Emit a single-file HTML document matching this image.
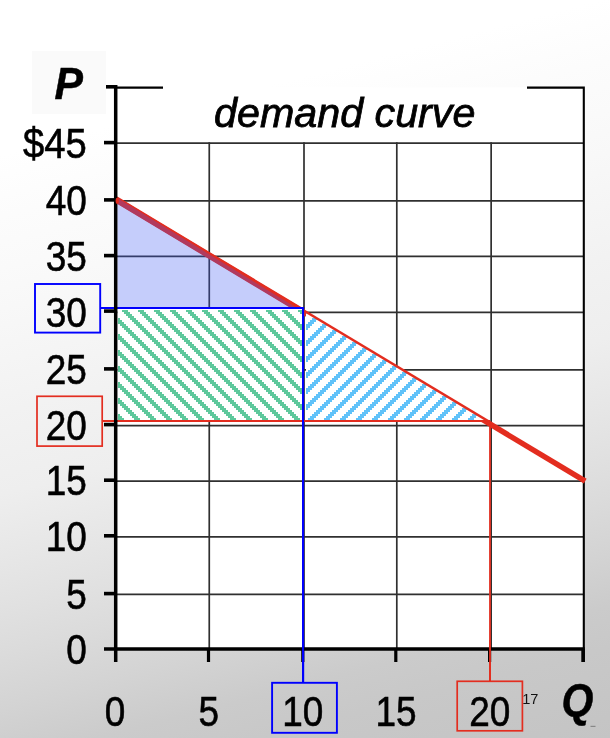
<!DOCTYPE html>
<html><head><meta charset="utf-8"><title>demand curve</title>
<style>
html,body{margin:0;padding:0;background:#fff;}
body{width:610px;height:738px;overflow:hidden;}
svg{display:block;}
text{font-family:"Liberation Sans",Arial,Helvetica,sans-serif;fill:#000;}
.n{font-size:42px;stroke:#000;stroke-width:0.6px;}
.b{font-size:42.5px;font-weight:bold;font-style:italic;stroke:#000;stroke-width:0.5px;}
.t{font-size:41.25px;font-style:italic;stroke:#000;stroke-width:0.8px;}
.s{font-size:14.6px;fill:#111;}
</style></head><body>
<svg width="610" height="738" viewBox="0 0 610 738">
<defs>
<linearGradient id="bg" gradientUnits="userSpaceOnUse" x1="0" y1="0" x2="249.2" y2="966.7">
<stop offset="0.150" stop-color="#ffffff"/>
<stop offset="0.210" stop-color="#fcfcfc"/>
<stop offset="0.260" stop-color="#fafafa"/>
<stop offset="0.300" stop-color="#f8f8f8"/>
<stop offset="0.400" stop-color="#f2f2f2"/>
<stop offset="0.480" stop-color="#eeeeee"/>
<stop offset="0.540" stop-color="#e7e7e7"/>
<stop offset="0.590" stop-color="#e1e1e1"/>
<stop offset="0.635" stop-color="#dbdbdb"/>
<stop offset="0.690" stop-color="#d3d3d3"/>
<stop offset="0.740" stop-color="#cbcbcb"/>
<stop offset="0.780" stop-color="#c8c8c8"/>
<stop offset="0.870" stop-color="#c4c4c4"/>
</linearGradient>
<pattern id="hg" patternUnits="userSpaceOnUse" width="16" height="16"><rect width="16" height="16" fill="#fff"/><g fill="#5ec89c" shape-rendering="crispEdges"><rect x="4" y="0" width="2" height="2"/><rect x="6" y="0" width="2" height="2"/><rect x="8" y="0" width="2" height="2"/><rect x="6" y="2" width="2" height="2"/><rect x="8" y="2" width="2" height="2"/><rect x="10" y="2" width="2" height="2"/><rect x="8" y="4" width="2" height="2"/><rect x="10" y="4" width="2" height="2"/><rect x="12" y="4" width="2" height="2"/><rect x="10" y="6" width="2" height="2"/><rect x="12" y="6" width="2" height="2"/><rect x="14" y="6" width="2" height="2"/><rect x="12" y="8" width="2" height="2"/><rect x="14" y="8" width="2" height="2"/><rect x="0" y="8" width="2" height="2"/><rect x="14" y="10" width="2" height="2"/><rect x="0" y="10" width="2" height="2"/><rect x="2" y="10" width="2" height="2"/><rect x="0" y="12" width="2" height="2"/><rect x="2" y="12" width="2" height="2"/><rect x="4" y="12" width="2" height="2"/><rect x="2" y="14" width="2" height="2"/><rect x="4" y="14" width="2" height="2"/><rect x="6" y="14" width="2" height="2"/></g></pattern>
<pattern id="hb" patternUnits="userSpaceOnUse" width="16" height="16"><rect width="16" height="16" fill="#fff"/><g fill="#60c2f9" shape-rendering="crispEdges"><rect x="6" y="0" width="2" height="2"/><rect x="8" y="0" width="2" height="2"/><rect x="10" y="0" width="2" height="2"/><rect x="4" y="2" width="2" height="2"/><rect x="6" y="2" width="2" height="2"/><rect x="8" y="2" width="2" height="2"/><rect x="2" y="4" width="2" height="2"/><rect x="4" y="4" width="2" height="2"/><rect x="6" y="4" width="2" height="2"/><rect x="0" y="6" width="2" height="2"/><rect x="2" y="6" width="2" height="2"/><rect x="4" y="6" width="2" height="2"/><rect x="14" y="8" width="2" height="2"/><rect x="0" y="8" width="2" height="2"/><rect x="2" y="8" width="2" height="2"/><rect x="12" y="10" width="2" height="2"/><rect x="14" y="10" width="2" height="2"/><rect x="0" y="10" width="2" height="2"/><rect x="10" y="12" width="2" height="2"/><rect x="12" y="12" width="2" height="2"/><rect x="14" y="12" width="2" height="2"/><rect x="8" y="14" width="2" height="2"/><rect x="10" y="14" width="2" height="2"/><rect x="12" y="14" width="2" height="2"/></g></pattern>
</defs>
<rect width="610" height="738" fill="url(#bg)"/>
<rect x="32" y="51" width="74" height="63" fill="#fafafa"/>
<rect x="115.7" y="87.5" width="468.1" height="561.5" fill="#fff"/>
<g stroke="#303030" stroke-width="1.7" fill="none">
<line x1="115.7" y1="143.1" x2="583.8" y2="143.1"/>
<line x1="115.7" y1="200.9" x2="583.8" y2="200.9"/>
<line x1="115.7" y1="256.4" x2="583.8" y2="256.4"/>
<line x1="115.7" y1="312.3" x2="583.8" y2="312.3"/>
<line x1="115.7" y1="369.9" x2="583.8" y2="369.9"/>
<line x1="115.7" y1="425.6" x2="583.8" y2="425.6"/>
<line x1="115.7" y1="481.1" x2="583.8" y2="481.1"/>
<line x1="115.7" y1="536.9" x2="583.8" y2="536.9"/>
<line x1="115.7" y1="594.4" x2="583.8" y2="594.4"/>
<line x1="209.26" y1="142.3" x2="209.26" y2="649"/>
<line x1="304.0" y1="142.3" x2="304.0" y2="649"/>
<line x1="396.8" y1="142.3" x2="396.8" y2="649"/>
<line x1="491.15" y1="142.3" x2="491.15" y2="649"/>
</g>
<g stroke="#000" stroke-width="2.1" fill="none">
<line x1="115" y1="87.6" x2="163" y2="87.6"/>
<polyline points="527,87.6 583.8,87.6 583.8,662"/>
</g>
<line x1="115.7" y1="199.3" x2="585.2" y2="481.2" stroke="#e32d1f" stroke-width="5.5"/>
<line x1="115.7" y1="199.3" x2="303.0" y2="311.76" stroke="#e32d1f" stroke-width="6.3"/>
<polygon points="117.4,198.0 296.8,308 117.4,308" fill="#3e58f2" fill-opacity="0.3"/>
<rect x="117.4" y="309" width="184.8" height="111" fill="#fff"/>
<rect x="118" y="310" width="184" height="110" fill="url(#hg)"/>
<polygon points="306,313.2 306,420 483.9,420" fill="url(#hb)"/>
<g stroke="#e32d1f" fill="none">
<line x1="103" y1="421" x2="490" y2="421" stroke-width="1.9"/>
<line x1="490" y1="421" x2="490" y2="681" stroke-width="1.8"/>
</g>
<polyline points="101,308 303.05,308 303.05,682" stroke="#0000fe" fill="none" stroke-width="2.1"/>
<g stroke="#000" fill="none">
<line x1="115.7" y1="85" x2="115.7" y2="662" stroke-width="3.5"/>
<line x1="104" y1="649" x2="584.8" y2="649" stroke-width="3.6"/>
<line x1="583.1" y1="649" x2="583.1" y2="662" stroke-width="3.6"/>
<line x1="106" y1="86.8" x2="115" y2="86.8" stroke-width="3.6"/>
<line x1="104" y1="142.6" x2="115" y2="142.6" stroke-width="3.6"/>
<line x1="104" y1="199.9" x2="115" y2="199.9" stroke-width="3.6"/>
<line x1="104" y1="255.6" x2="115" y2="255.6" stroke-width="3.6"/>
<line x1="104" y1="311.1" x2="115" y2="311.1" stroke-width="3.6"/>
<line x1="104" y1="368.9" x2="115" y2="368.9" stroke-width="3.6"/>
<line x1="104" y1="424.6" x2="115" y2="424.6" stroke-width="3.6"/>
<line x1="104" y1="480.2" x2="115" y2="480.2" stroke-width="3.6"/>
<line x1="104" y1="535.8" x2="115" y2="535.8" stroke-width="3.6"/>
<line x1="104" y1="593.6" x2="115" y2="593.6" stroke-width="3.6"/>
<line x1="208.5" y1="649" x2="208.5" y2="662" stroke-width="3.2"/>
<line x1="302.8" y1="649" x2="302.8" y2="662" stroke-width="3.2"/>
<line x1="395.8" y1="649" x2="395.8" y2="662" stroke-width="3.2"/>
<line x1="489.6" y1="649" x2="489.6" y2="662" stroke-width="3.2"/>
</g>
<ellipse cx="117.3" cy="200.8" rx="1.7" ry="3.1" fill="#e32d1f"/>
<line x1="303.05" y1="640" x2="303.05" y2="682" stroke="#0000fe" stroke-width="2.1"/>
<line x1="490" y1="640" x2="490" y2="681" stroke="#e32d1f" stroke-width="1.8"/>
<rect x="35" y="284" width="65.2" height="48.6" fill="none" stroke="#0000fe" stroke-width="1.9"/>
<rect x="37" y="396.3" width="65.2" height="49.8" fill="none" stroke="#e32d1f" stroke-width="1.7"/>
<rect x="272.1" y="682.8" width="64.8" height="50" fill="none" stroke="#0000fe" stroke-width="1.9"/>
<rect x="457.2" y="681.3" width="65.2" height="49.5" fill="none" stroke="#e32d1f" stroke-width="1.7"/>
<text class="n" transform="translate(86.8,158.0) scale(0.91,1)" text-anchor="end">$45</text>
<text class="n" transform="translate(86.8,214.9) scale(0.88,1)" text-anchor="end">40</text>
<text class="n" transform="translate(86.8,270.9) scale(0.88,1)" text-anchor="end">35</text>
<text class="n" transform="translate(86.8,326.9) scale(0.88,1)" text-anchor="end">30</text>
<text class="n" transform="translate(86.8,383.8) scale(0.88,1)" text-anchor="end">25</text>
<text class="n" transform="translate(86.8,439.6) scale(0.88,1)" text-anchor="end">20</text>
<text class="n" transform="translate(86.8,495.4) scale(0.88,1)" text-anchor="end">15</text>
<text class="n" transform="translate(86.8,550.8) scale(0.88,1)" text-anchor="end">10</text>
<text class="n" transform="translate(86.8,608.8) scale(0.88,1)" text-anchor="end">5</text>
<text class="n" transform="translate(86.8,664.3) scale(0.88,1)" text-anchor="end">0</text>
<text class="n" transform="translate(115.0,725.6) scale(0.88,1)" text-anchor="middle">0</text>
<text class="n" transform="translate(208.9,725.6) scale(0.88,1)" text-anchor="middle">5</text>
<text class="n" transform="translate(302.7,725.6) scale(0.88,1)" text-anchor="middle">10</text>
<text class="n" transform="translate(396.0,725.6) scale(0.88,1)" text-anchor="middle">15</text>
<text class="n" transform="translate(489.8,725.6) scale(0.88,1)" text-anchor="middle">20</text>
<text class="b" style="font-size:44.4px" transform="translate(54.6,98.5) scale(0.96,1)">P</text>
<text class="b" style="font-size:46px" transform="translate(561.5,716.3) scale(0.89,1)">Q</text>
<text class="t" x="214" y="126.7">demand curve</text>
<text class="s" x="522.2" y="704.2">17</text>
<rect x="590.5" y="725.8" width="5" height="1.2" fill="#888"/>
</svg>
</body></html>
